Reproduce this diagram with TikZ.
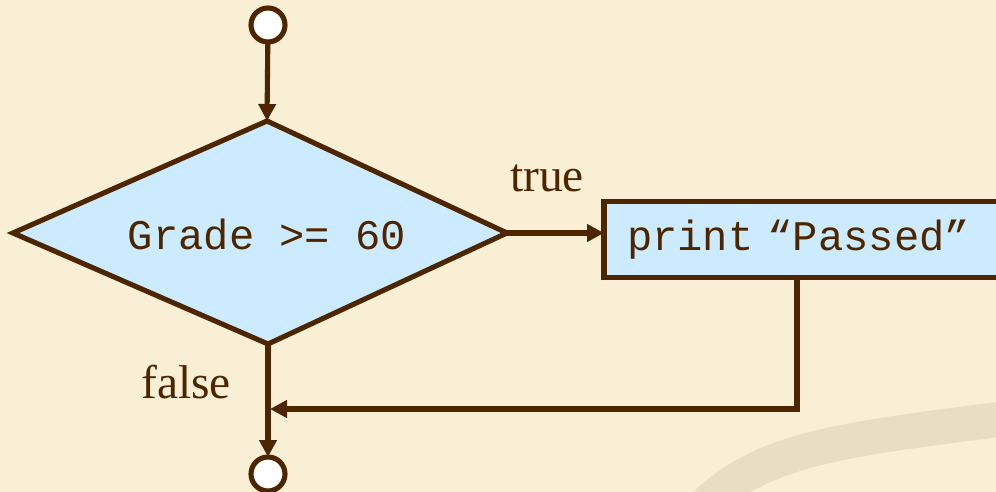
\documentclass[tikz,border=0pt]{standalone}
\usepackage{fontspec}
\setmainfont{Liberation Serif}
\setmonofont{Liberation Mono}
\usepackage{xcolor}
\usepackage{tikz}
\usetikzlibrary{shapes,arrows.meta,positioning}

\definecolor{paper}{RGB}{248,239,212}
\definecolor{swoosh}{RGB}{231,222,195}
\definecolor{boxblue}{RGB}{204,235,255}
\definecolor{ink}{RGB}{77,38,0}

\begin{document}
\begin{tikzpicture}[x=0.02cm, y=-0.02cm, line width=2.9pt, draw=ink, text=ink,
    flow/.style={draw=ink, line width=2.9pt, -{Triangle[length=0.34cm, width=0.34cm]}},
    label text/.style={font=\fontsize{27}{32}\selectfont, inner sep=0pt, anchor=base},
    code text/.style={font=\ttfamily\fontsize{24}{28}\selectfont}]
            % Background and swoosh
            \fill[paper] (0,0) rectangle (996,492);
            \useasboundingbox (0,0) rectangle (996,492);
            \draw[swoosh, line width=0.7cm] (700,510) .. controls (760,448) and (840,440) .. (1010,418);

            % Start and end points
            \node[draw=ink, circle, fill=white, minimum size=0.68cm, inner sep=0pt, outer sep=0pt] (start) at (268,25) {};
            \node[draw=ink, circle, fill=white, minimum size=0.68cm, inner sep=0pt, outer sep=0pt] (stop) at (268,474) {};

            % Decision (corners as coordinates)
            \coordinate (dtop) at (267,121);
            \coordinate (dright) at (507,233);
            \coordinate (dbot) at (268,344);
            \coordinate (dleft) at (13,233);
            \draw[draw=ink, fill=boxblue, line join=miter] (dleft) -- (dtop) -- (dright) -- (dbot) -- cycle;
            \node[code text, inner sep=0pt] (cond) at (267,234) {Grade >= 60};

            % Action
            \node[draw=ink, rectangle, fill=boxblue, code text, anchor=west, outer sep=0pt, minimum width=8.9cm, minimum height=1.52cm, inner xsep=0.46cm, text width=7.98cm, align=left] (print) at (604,239.5) {print “Passed”};

            % Labels
            \node[label text] (truelbl) at (547,192) {true};
            \node[label text] (falselbl) at (186,399) {false};

            % Arrows
            \draw[flow] (start) -- (dtop);
            \draw[flow] (dright) -- (dright -| print.west);
            \draw[flow] (dbot) -- (stop);
            \coordinate (drop) at (797,409);
            \coordinate (merge) at (270,409);
            \draw[flow, line join=miter] (print.south -| drop) -- (drop) -- (merge);
        \end{tikzpicture}
\end{document}
